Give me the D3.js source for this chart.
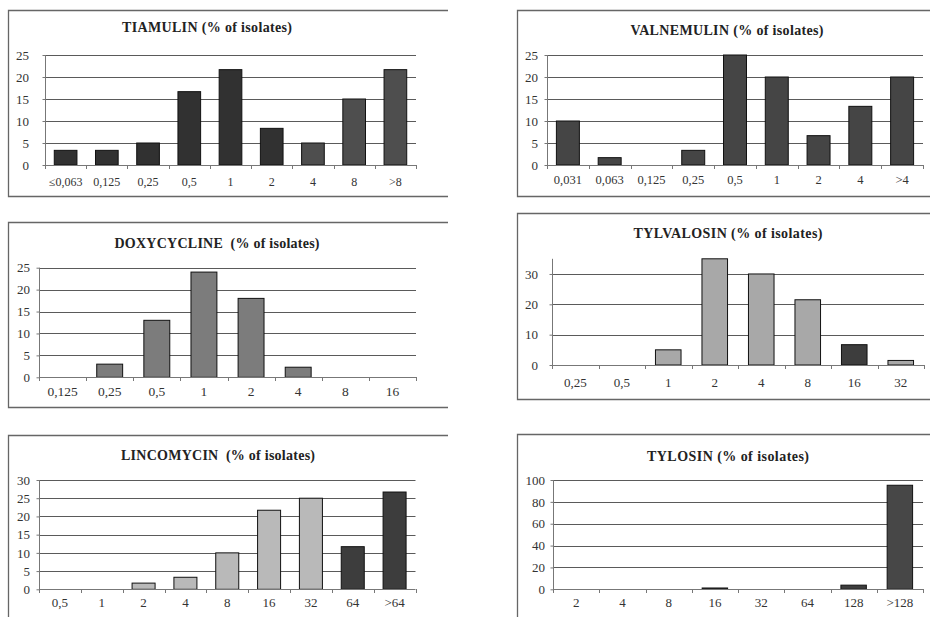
<!DOCTYPE html>
<html>
<head>
<meta charset="utf-8">
<script src="https://cdn.jsdelivr.net/npm/d3@7"></script>
<style>
  html, body { margin: 0; padding: 0; background: #fff; }
  svg { display: block; }
</style>
</head>
<body>
<svg id="chart" width="930" height="617"></svg>
<script>
// ---------- DATA ----------
const tiamulinCategories = ["≤0,063", "0,125", "0,25", "0,5", "1", "2", "4", "8", ">8"];
const tiamulinValues     = [3.33, 3.33, 5, 16.67, 21.67, 8.33, 5, 15, 21.67];
const tiamulinTicks      = [0, 5, 10, 15, 20, 25];

const valnemulinCategories = ["0,031", "0,063", "0,125", "0,25", "0,5", "1", "2", "4", ">4"];
const valnemulinValues     = [10, 1.67, 0, 3.33, 25, 20, 6.67, 13.33, 20];
const valnemulinTicks      = [0, 5, 10, 15, 20, 25];

const doxycyclineCategories = ["0,125", "0,25", "0,5", "1", "2", "4", "8", "16"];
const doxycyclineValues     = [0, 3, 13, 24, 18, 2.3, 0, 0];
const doxycyclineTicks      = [0, 5, 10, 15, 20, 25];

const tylvalosinCategories = ["0,25", "0,5", "1", "2", "4", "8", "16", "32"];
const tylvalosinValues     = [0, 0, 5, 35, 30, 21.5, 6.7, 1.5];
const tylvalosinTicks      = [0, 10, 20, 30];

const lincomycinCategories = ["0,5", "1", "2", "4", "8", "16", "32", "64", ">64"];
const lincomycinValues     = [0, 0, 1.7, 3.3, 10, 21.7, 25, 11.7, 26.7];
const lincomycinTicks      = [0, 5, 10, 15, 20, 25, 30];

const tylosinCategories = ["2", "4", "8", "16", "32", "64", "128", ">128"];
const tylosinValues     = [0, 0, 0, 1.2, 0, 0, 3.8, 95.2];
const tylosinTicks      = [0, 20, 40, 60, 80, 100];

const titles = [
  "TIAMULIN (% of isolates)",
  "VALNEMULIN (% of isolates)",
  "DOXYCYCLINE  (% of isolates)",
  "TYLVALOSIN (% of isolates)",
  "LINCOMYCIN  (% of isolates)",
  "TYLOSIN (% of isolates)"
];

// ---------- STYLE / LAYOUT ----------
const FONT = '"Liberation Serif"';
const D1 = "#313131", D2 = "#4e4e4e", DV = "#454545", MG = "#7c7c7c", LG = "#a8a8a8", LL = "#b9b9b9", DK = "#3d3d3d";
const panels = [
  { cats: tiamulinCategories, vals: tiamulinValues, ticks: tiamulinTicks, max: 25, title: titles[0],
    colors: [D1, D1, D1, D1, D1, D1, D2, D2, D2],
    box: { x: 8, y: 10, w: 440, h: 186 }, x0: 45, x1: 416, yTop: 55, yBot: 165,
    titleX: 207, titleY: 32, titleW: 170, yLabX: 29, xLabDy: 21, xFs: 12 },
  { cats: valnemulinCategories, vals: valnemulinValues, ticks: valnemulinTicks, max: 25, title: titles[1],
    colors: valnemulinValues.map(() => DV),
    box: { x: 517, y: 10, w: 440, h: 186 }, x0: 547, x1: 923, yTop: 55, yBot: 165,
    titleX: 727, titleY: 35, titleW: 193, yLabX: 538, xLabDy: 19, xFs: 12.5 },
  { cats: doxycyclineCategories, vals: doxycyclineValues, ticks: doxycyclineTicks, max: 25, title: titles[2],
    colors: doxycyclineValues.map(() => MG),
    box: { x: 8, y: 222, w: 440, h: 185 }, x0: 39, x1: 416, yTop: 267.7, yBot: 377.3,
    titleX: 217, titleY: 248, titleW: 205, yLabX: 30, xLabDy: 19, xFs: 13.5 },
  { cats: tylvalosinCategories, vals: tylvalosinValues, ticks: tylvalosinTicks, max: 35, title: titles[3],
    colors: [LG, LG, LG, LG, LG, LG, DK, LG],
    box: { x: 517, y: 213, w: 440, h: 186 }, x0: 552, x1: 924, yTop: 258.8, yBot: 365,
    titleX: 728, titleY: 238, titleW: 189, yLabX: 538, xLabDy: 22, xFs: 13 },
  { cats: lincomycinCategories, vals: lincomycinValues, ticks: lincomycinTicks, max: 30, title: titles[4],
    colors: [LL, LL, LL, LL, LL, LL, LL, DK, DK],
    box: { x: 8, y: 435, w: 440, h: 300 }, x0: 39, x1: 415.5, yTop: 480, yBot: 589.3,
    titleX: 218, titleY: 460, titleW: 194, yLabX: 30, xLabDy: 18, xFs: 13 },
  { cats: tylosinCategories, vals: tylosinValues, ticks: tylosinTicks, max: 100, title: titles[5],
    colors: [DK, DK, DK, DK, DK, DK, DK, "#474747"],
    box: { x: 517, y: 434, w: 440, h: 300 }, x0: 553, x1: 923, yTop: 480, yBot: 589.3,
    titleX: 728, titleY: 461, titleW: 162, yLabX: 545, xLabDy: 18, xFs: 13 }
];

const svg = d3.select("#chart");

panels.forEach(p => {
  const g = svg.append("g");

  const b = p.box;
  g.append("path")
    .attr("d", `M${b.x + b.w},${b.y + 0.5}H${b.x + 0.5}V${b.y + b.h + 0.5}H${b.x + b.w}`)
    .attr("fill", "none").attr("stroke", "#666").attr("stroke-width", 1.3);

  const x = d3.scaleBand().domain(p.cats).range([p.x0, p.x1]).paddingInner(0.45).paddingOuter(0.225);
  const y = d3.scaleLinear().domain([0, p.max]).range([p.yBot, p.yTop]);

  // gridlines
  g.append("g").selectAll("line").data(p.ticks.filter(t => t > 0)).join("line")
    .attr("x1", p.x0).attr("x2", p.x1)
    .attr("y1", d => Math.round(y(d)) + 0.5).attr("y2", d => Math.round(y(d)) + 0.5)
    .attr("stroke", "#5a5a5a").attr("stroke-width", 1);

  // y axis
  const yAxis = d3.axisLeft(y).tickValues(p.ticks).tickSize(3).tickFormat(d3.format("d"));
  const ya = g.append("g").attr("transform", `translate(${Math.round(p.x0) + 0.5},0)`).call(yAxis);
  ya.select(".domain").attr("stroke", "#777").attr("d", `M0,${p.yTop}V${p.yBot}`);
  ya.selectAll(".tick line").attr("stroke", "#777");
  ya.selectAll(".tick text")
    .attr("x", p.yLabX - Math.round(p.x0) - 0.5)
    .attr("fill", "#333")
    .style("font-family", FONT).style("font-size", "13px");

  // bars
  g.append("g").selectAll("rect").data(p.vals).join("rect")
    .attr("x", (d, i) => x(p.cats[i]))
    .attr("width", x.bandwidth())
    .attr("y", d => y(d))
    .attr("height", d => p.yBot - y(d))
    .attr("fill", (d, i) => p.colors[i])
    .attr("stroke", d => d > 0 ? "#111" : "none")
    .attr("stroke-width", 1);

  // x axis line + ticks between categories
  const bounds = d3.range(p.cats.length + 1).map(i => p.x0 + i * (p.x1 - p.x0) / p.cats.length);
  g.append("line").attr("x1", p.x0).attr("x2", p.x1)
    .attr("y1", Math.round(p.yBot) + 0.5).attr("y2", Math.round(p.yBot) + 0.5)
    .attr("stroke", "#777");
  g.append("g").selectAll("line").data(bounds).join("line")
    .attr("x1", d => Math.round(d) + 0.5).attr("x2", d => Math.round(d) + 0.5)
    .attr("y1", Math.round(p.yBot)).attr("y2", Math.round(p.yBot) + 4)
    .attr("stroke", "#777");

  // x labels
  g.append("g").selectAll("text").data(p.cats).join("text")
    .attr("x", d => x(d) + x.bandwidth() / 2)
    .attr("y", p.yBot + p.xLabDy)
    .attr("text-anchor", "middle")
    .attr("fill", "#333")
    .style("font-family", FONT).style("font-size", p.xFs + "px")
    .text(d => d);

  // title
  g.append("text")
    .attr("x", p.titleX).attr("y", p.titleY)
    .attr("text-anchor", "middle")
    .attr("fill", "#222")
    .attr("textLength", p.titleW).attr("lengthAdjust", "spacing")
    .style("font-family", FONT).style("font-size", "14px").style("font-weight", "bold")
    .style("white-space", "pre")
    .text(p.title);
});
</script>
</body>
</html>
